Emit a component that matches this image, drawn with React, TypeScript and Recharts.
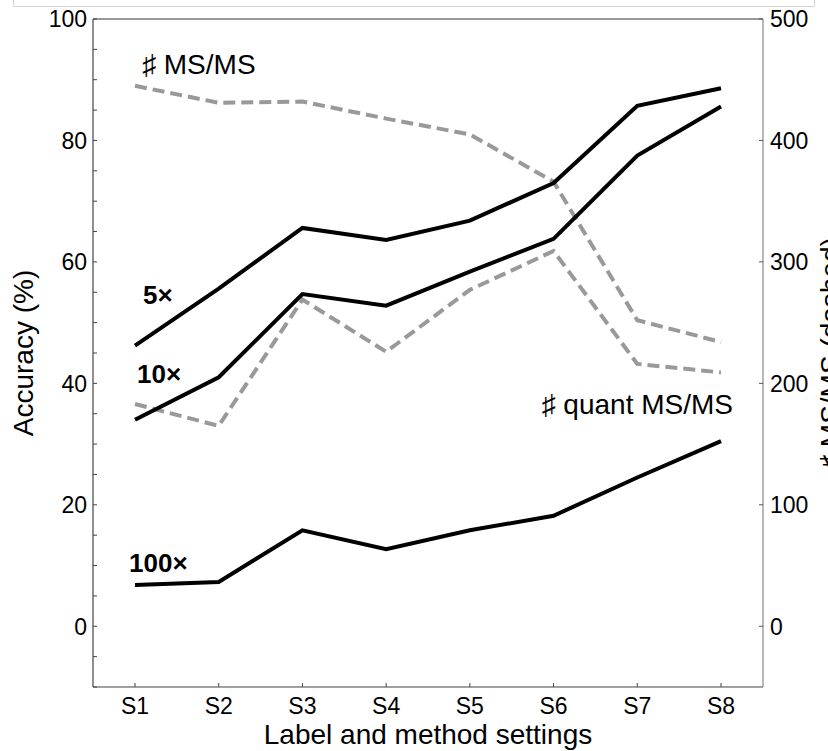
import { LineChart, Line, XAxis, YAxis, ReferenceLine, ReferenceDot } from "recharts"

const settings = ["S1", "S2", "S3", "S4", "S5", "S6", "S7", "S8"]

// accuracy (%) per dilution, solid lines on the left axis
const acc5x = [46.2, 55.6, 65.6, 63.6, 66.8, 73.0, 85.7, 88.6]
const acc10x = [34.0, 41.0, 54.7, 52.8, 58.4, 63.8, 77.5, 85.6]
const acc100x = [6.8, 7.3, 15.8, 12.7, 15.8, 18.2, 24.5, 30.5]

// number of MS/MS spectra, dashed lines on the right axis
const msmsCount = [445, 431, 432, 418, 405, 366, 252, 234]
const quantMsmsCount = [183, 165, 269, 226, 277, 309, 216, 209]

const accuracyTicks = [-10, -5, 0, 5, 10, 15, 20, 25, 30, 35, 40, 45, 50, 55, 60, 65, 70, 75, 80, 85, 90, 95, 100]
const msmsTicks = [0, 100, 200, 300, 400, 500]

const data = settings.map((s, i) => ({
  setting: s,
  x5: acc5x[i],
  x10: acc10x[i],
  x100: acc100x[i],
  msms: msmsCount[i],
  quant: quantMsmsCount[i],
}))

const FONT = "'Liberation Sans', Arial, Helvetica, sans-serif"
const TICK_FONT = 23
const TITLE_FONT = 28
const TICK_LEN = 4

function LeftTick(props: any) {
  const { x, y, payload } = props
  const v = payload.value
  const showLabel = v >= 0 && v % 20 === 0
  return (
    <g>
      <line x1={x} x2={x + TICK_LEN} y1={y} y2={y} stroke="#444" strokeWidth={1} />
      {showLabel && (
        <text x={x - 6} y={y} dy="0.36em" textAnchor="end" fontSize={TICK_FONT} fontFamily={FONT} fill="#000">
          {v}
        </text>
      )}
    </g>
  )
}

function RightTick(props: any) {
  const { x, y, payload } = props
  return (
    <g>
      <line x1={x} x2={x - TICK_LEN} y1={y} y2={y} stroke="#555" strokeWidth={1} />
      <text x={x + 7} y={y} dy="0.36em" textAnchor="start" fontSize={TICK_FONT} fontFamily={FONT} fill="#000">
        {payload.value}
      </text>
    </g>
  )
}

function BottomTick(props: any) {
  const { x, y, payload } = props
  return (
    <g>
      <line x1={x} x2={x} y1={y} y2={y - TICK_LEN} stroke="#444" strokeWidth={1} />
      <text x={x} y={y + 27} textAnchor="middle" fontSize={TICK_FONT} fontFamily={FONT} fill="#000">
        {payload.value}
      </text>
    </g>
  )
}

// text note anchored to a data point, shifted by dx
function note(text: string, dx: number, anchor: "start" | "end", bold = false) {
  return (p: any) => (
    <text
      x={p.viewBox.x + dx}
      y={p.viewBox.y}
      textAnchor={anchor}
      fontSize={bold ? 26 : 28}
      fontWeight={bold ? "bold" : "normal"}
      fontFamily={FONT}
      fill="#000"
    >
      {text}
    </text>
  )
}

export default function App() {
  return (
    <div style={{ position: "absolute", left: 0, top: 0, width: 828, height: 751, background: "#fff" }}>
      <div
        style={{
          position: "absolute",
          left: 13,
          top: -2,
          width: 800,
          height: 8,
          borderLeft: "1px solid #d6d6d6",
          borderRight: "1px solid #d6d6d6",
          borderBottom: "1px solid #d6d6d6",
        }}
      />
      <LineChart width={828} height={751} data={data} margin={{ top: 19, right: 5, bottom: 4, left: 33 }}>
        <XAxis
          dataKey="setting"
          height={60}
          padding={{ left: 42, right: 42 }}
          interval={0}
          tickSize={0}
          tickMargin={0}
          tickLine={false}
          axisLine={{ stroke: "#444", strokeWidth: 1.2 }}
          tick={<BottomTick />}
          label={(p: any) => (
            <text
              x={p.viewBox.x + p.viewBox.width / 2}
              y={p.viewBox.y + 57}
              textAnchor="middle"
              fontSize={TITLE_FONT}
              fontFamily={FONT}
              fill="#000"
            >
              Label and method settings
            </text>
          )}
        />
        <YAxis
          yAxisId="acc"
          orientation="left"
          width={60}
          domain={[-10, 100]}
          ticks={accuracyTicks}
          interval={0}
          tickSize={0}
          tickMargin={0}
          tickLine={false}
          axisLine={{ stroke: "#444", strokeWidth: 1.2 }}
          tick={<LeftTick />}
          label={(p: any) => {
            const cx = p.viewBox.x
            const cy = p.viewBox.y + p.viewBox.height / 2
            return (
              <text
                x={cx}
                y={cy}
                transform={`rotate(-90 ${cx} ${cy})`}
                textAnchor="middle"
                fontSize={TITLE_FONT}
                fontFamily={FONT}
                fill="#000"
              >
                Accuracy (%)
              </text>
            )
          }}
        />
        <YAxis
          yAxisId="msms"
          orientation="right"
          width={60}
          domain={[-50, 500]}
          ticks={msmsTicks}
          interval={0}
          tickSize={0}
          tickMargin={0}
          tickLine={false}
          axisLine={{ stroke: "#888", strokeWidth: 1.2 }}
          tick={<RightTick />}
          label={(p: any) => {
            const cx = p.viewBox.x + 77
            const cy = p.viewBox.y + p.viewBox.height / 2
            return (
              <text
                x={cx}
                y={cy}
                transform={`rotate(-90 ${cx} ${cy})`}
                textAnchor="middle"
                fontSize={TITLE_FONT}
                fontFamily={FONT}
                fill="#000"
              >
                ♯ MS/MS (dashed)
              </text>
            )
          }}
        />
        <ReferenceLine yAxisId="acc" y={100} stroke="#333" strokeWidth={1.2} />

        <Line yAxisId="msms" dataKey="msms" stroke="#999" strokeWidth={4} strokeDasharray="12 6" dot={false} isAnimationActive={false} />
        <Line yAxisId="msms" dataKey="quant" stroke="#999" strokeWidth={4} strokeDasharray="12 6" dot={false} isAnimationActive={false} />
        <Line yAxisId="acc" dataKey="x5" stroke="#000" strokeWidth={4} dot={false} isAnimationActive={false} />
        <Line yAxisId="acc" dataKey="x10" stroke="#000" strokeWidth={4} dot={false} isAnimationActive={false} />
        <Line yAxisId="acc" dataKey="x100" stroke="#000" strokeWidth={4} dot={false} isAnimationActive={false} />

        <ReferenceDot yAxisId="acc" x="S1" y={91} r={0} fill="none" stroke="none" label={note("♯ MS/MS", 7, "start")} />
        <ReferenceDot yAxisId="acc" x="S1" y={53} r={0} fill="none" stroke="none" label={note("5×", 8, "start", true)} />
        <ReferenceDot yAxisId="acc" x="S1" y={40} r={0} fill="none" stroke="none" label={note("10×", 2, "start", true)} />
        <ReferenceDot yAxisId="acc" x="S1" y={8.9} r={0} fill="none" stroke="none" label={note("100×", -6, "start", true)} />
        <ReferenceDot yAxisId="acc" x="S8" y={35} r={0} fill="none" stroke="none" label={note("♯ quant MS/MS", 12, "end")} />
      </LineChart>
    </div>
  )
}
